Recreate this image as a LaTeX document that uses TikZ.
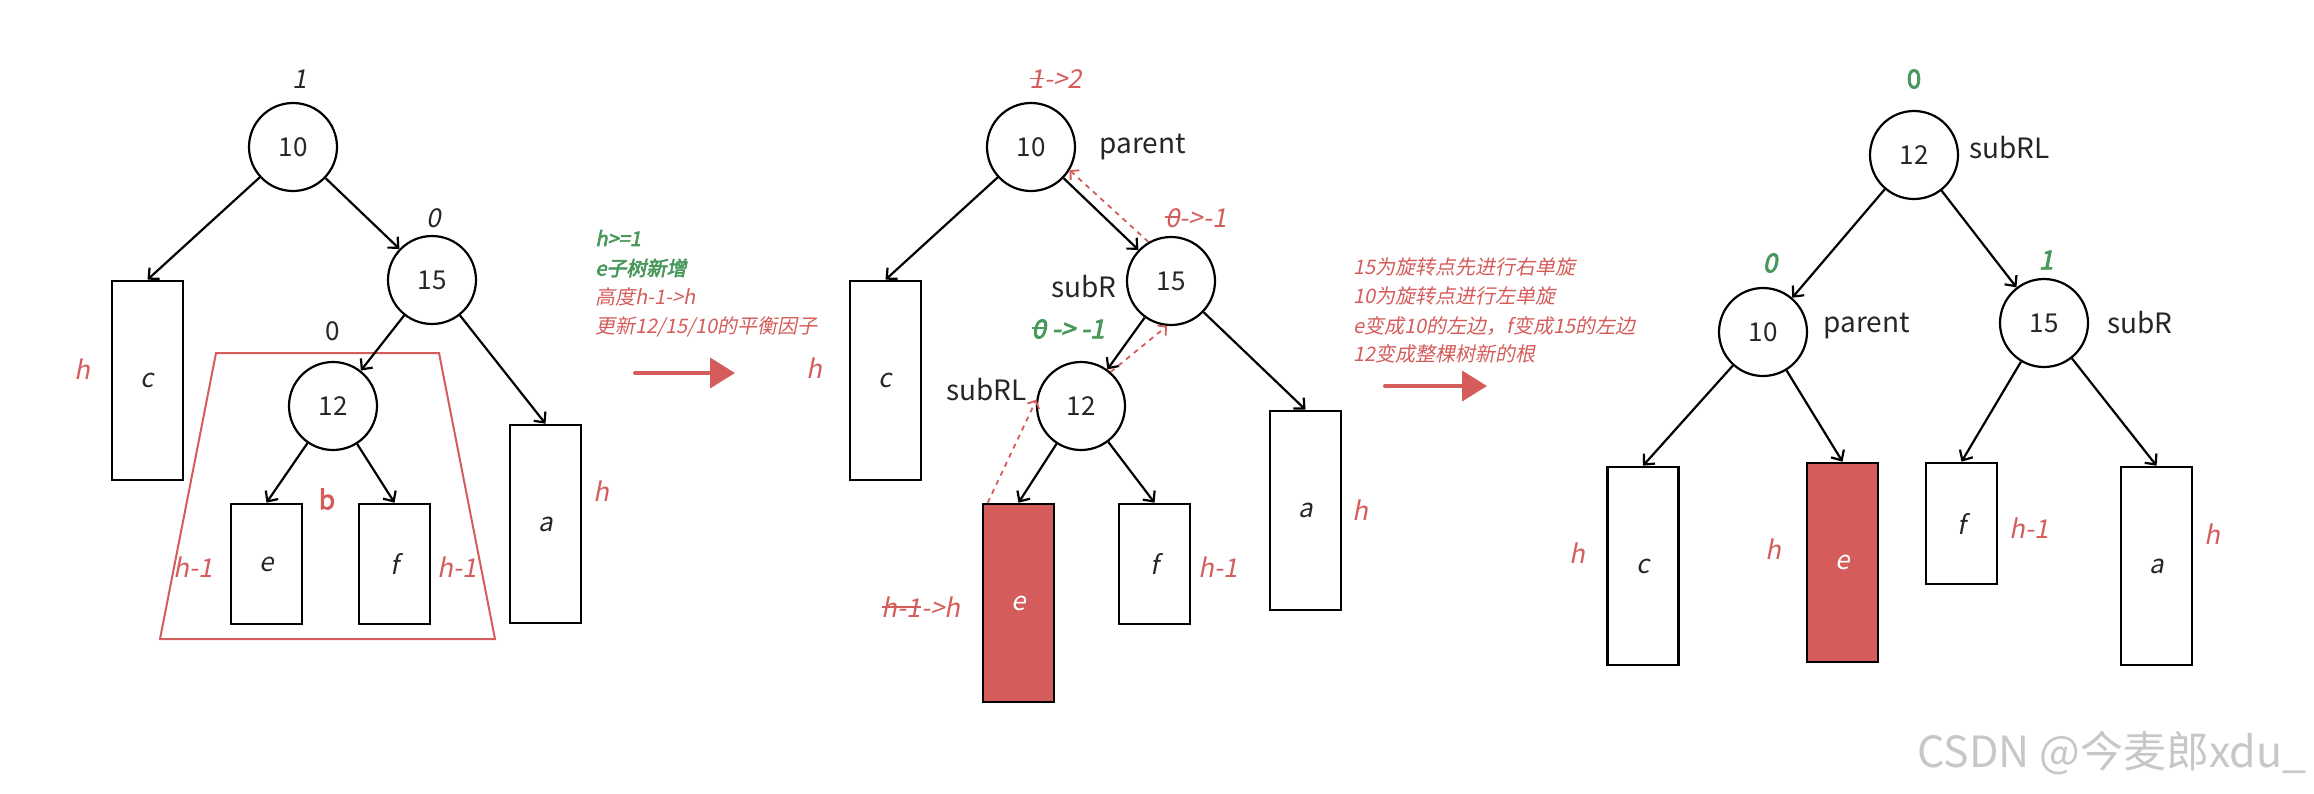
\documentclass[tikz,border=0pt]{standalone}
\usepackage{fontspec}
\setmainfont{Noto Sans CJK SC}[ItalicFont=Noto Sans CJK SC, ItalicFeatures={FakeSlant=0.2},
  BoldFont=Noto Sans CJK SC, BoldFeatures={FakeBold=3},
  BoldItalicFont=Noto Sans CJK SC, BoldItalicFeatures={FakeSlant=0.2,FakeBold=3}]
\usetikzlibrary{arrows.meta}

\definecolor{hred}{RGB}{212,92,90}
\definecolor{bgreen}{RGB}{72,152,92}
\definecolor{ink}{RGB}{38,38,38}

\newlength\strklen
\newcommand\strike[1]{\settowidth{\strklen}{#1}\rlap{\rule[0.35em]{\strklen}{0.9pt}}#1}

\tikzset{
  avl/.style={circle, draw, line width=1.1pt, minimum size=44pt, inner sep=0pt,
    font=\fontsize{13}{15}\selectfont, text=ink},
  subtree/.style={draw, line width=1.3pt, minimum width=35.5pt, inner sep=0pt,
    font=\fontsize{13}{15}\selectfont\itshape, text=ink},
  hgt/.style={text=hred, font=\fontsize{13}{15}\selectfont\itshape},
  bal/.style={text=ink, font=\fontsize{13}{15}\selectfont\itshape},
  gbal/.style={text=bgreen, font=\fontsize{13}{15}\selectfont\bfseries\itshape},
  ptr/.style={text=ink, inner sep=0pt, font=\fontsize{14}{16}\selectfont},
  link/.style={-{Straight Barb[length=4pt,width=7.5pt]}, line width=1.1pt},
  climb/.style={-{Straight Barb[length=3pt,width=6.5pt]}, hred, line width=0.9pt,
    dash pattern=on 2.5pt off 2.5pt},
  bigarrow/.style={-{Triangle[length=12.5pt,width=15pt]}, hred, line width=2pt, line cap=round},
  memo/.style={anchor=west, inner sep=0pt, font=\fontsize{10}{12}\selectfont\itshape}
}

\begin{document}
\begin{tikzpicture}[x=0.5pt,y=-0.5pt]
\useasboundingbox (0,0) rectangle (2314,793);

% before insertion
\draw[hred, line width=1pt] (216,353) -- (439,353) -- (495,639) -- (160,639) -- cycle;

\node[avl] (a10) at (293,147) {10};
\node[avl] (a15) at (432,280) {15};
\node[avl] (a12) at (333,406) {12};
\node[subtree, minimum height=99.5pt] (ac) at (147.5,380.5) {c};
\node[subtree, minimum height=60pt] (ae) at (266.5,564) {e};
\node[subtree, minimum height=60pt] (af) at (394.5,564) {f};
\node[subtree, minimum height=99pt] (aa) at (545.5,524) {a};

\node[bal] (abf10) at (300,79) {1};
\node[bal] (abf15) at (434,218) {0};
\node[bal, font=\fontsize{13}{15}\selectfont] (abf12) at (333,331) {0};
\node[text=hred, font=\fontsize{13}{15}\selectfont\bfseries] (ab) at (327,499) {b};
\node[hgt] (ahc) at (82,369) {h};
\node[hgt] (ahe) at (193,567) {h-1};
\node[hgt] (ahf) at (457,567) {h-1};
\node[hgt] (aha) at (601,491) {h};

\begin{scope}[link]
\draw (a10) -- (ac.north);
\draw (a10) -- (a15);
\draw (a15) -- (a12);
\draw (a15) -- (aa.north);
\draw (a12) -- (ae.north);
\draw (a12) -- (af.north);
\end{scope}

% first step
\node[memo, text=bgreen, font=\fontsize{10}{12}\selectfont\bfseries\itshape] (w1) at (595,238) {h>=1};
\node[memo, text=bgreen, font=\fontsize{10}{12}\selectfont\bfseries\itshape] (w2) at (595,268) {e子树新增};
\node[memo, text=hred] (w3) at (595,297) {高度h-1->h};
\node[memo, text=hred] (w4) at (595,327) {更新12/15/10的平衡因子};
\coordinate (s1) at (635,373);
\coordinate (t1) at (735,373);
\draw[bigarrow] (s1) -- (t1);

% after insertion
\node[avl] (b10) at (1031,147) {10};
\node[avl] (b15) at (1171,281) {15};
\node[avl] (b12) at (1081,406) {12};
\node[subtree, minimum height=99.5pt] (bc) at (885.5,380.5) {c};
\node[subtree, minimum height=99pt, fill=hred, text=white] (be) at (1018.5,603) {e};
\node[subtree, minimum height=60pt] (bf) at (1154.5,564) {f};
\node[subtree, minimum height=99.5pt] (ba) at (1305.5,510.5) {a};

\node[bal, text=hred] (bbf10) at (1056,79) {\strike{1}->2};
\node[bal, text=hred] (bbf15) at (1196,218) {\strike{0}->-1};
\node[gbal] (bbf12) at (1068,329) {\strike{0} -> -1};
\node[ptr, anchor=west] (bpar) at (1099,147) {parent};
\node[ptr, anchor=east] (bsubr) at (1117,287) {subR};
\node[ptr, anchor=east] (bsubrl) at (1027,390) {subRL};
\node[hgt] (bhc) at (814,368) {h};
\node[hgt] (bhe) at (921,607) {\strike{h-1}->h};
\node[hgt] (bhf) at (1218,567) {h-1};
\node[hgt] (bha) at (1360,510) {h};

\begin{scope}[link]
\draw (b10) -- (bc.north);
\draw (b10) -- (b15);
\draw (b15) -- (b12);
\draw (b15) -- (ba.north);
\draw (b12) -- (be.north);
\draw (b12) -- (bf.north);
\end{scope}

\begin{scope}[climb]
\draw ([xshift=3pt]be.north west) -- (b12.172);
\draw (b12.49) -- (b15.265);
\draw (b15.120) -- (b10.-31);
\end{scope}

% second step
\node[memo, text=hred] (r1) at (1353,267) {15为旋转点先进行右单旋};
\node[memo, text=hred] (r2) at (1353,296) {10为旋转点进行左单旋};
\node[memo, text=hred] (r3) at (1353,326) {e变成10的左边，f变成15的左边};
\node[memo, text=hred] (r4) at (1353,354) {12变成整棵树新的根};
\coordinate (s2) at (1385,386);
\coordinate (t2) at (1487,386);
\draw[bigarrow] (s2) -- (t2);

% after double rotation
\node[avl] (c12) at (1914,155) {12};
\node[avl] (c10) at (1763,332) {10};
\node[avl] (c15) at (2044,323) {15};
\node[subtree, minimum height=99pt] (cc) at (1643,566) {c};
\node[subtree, minimum height=99.5pt, fill=hred, text=white] (ce) at (1842.5,562.5) {e};
\node[subtree, minimum height=60.5pt] (cf) at (1961.5,523.5) {f};
\node[subtree, minimum height=99pt] (ca) at (2156.5,566) {a};

\node[gbal, font=\fontsize{13}{15}\selectfont\bfseries] (cbf12) at (1914,79) {0};
\node[gbal] (cbf10) at (1770,263) {0};
\node[gbal] (cbf15) at (2046,260) {1};
\node[ptr, anchor=west] (csubrl) at (1969,148) {subRL};
\node[ptr, anchor=west] (cpar) at (1823,326) {parent};
\node[ptr, anchor=west] (csubr) at (2107,323) {subR};
\node[hgt] (chc) at (1577,553) {h};
\node[hgt] (che) at (1773,549) {h};
\node[hgt] (chf) at (2029,528) {h-1};
\node[hgt] (cha) at (2212,534) {h};

\begin{scope}[link]
\draw (c12) -- (c10);
\draw (c12) -- (c15);
\draw (c10) -- (cc.north);
\draw (c10) -- (ce.north);
\draw (c15) -- (cf.north);
\draw (c15) -- (ca.north);
\end{scope}

\node[text=black!22, font=\fontsize{21.5}{22}\selectfont] (mark) at (2112,753) {CSDN @今麦郎xdu\_};

\end{tikzpicture}
\end{document}
